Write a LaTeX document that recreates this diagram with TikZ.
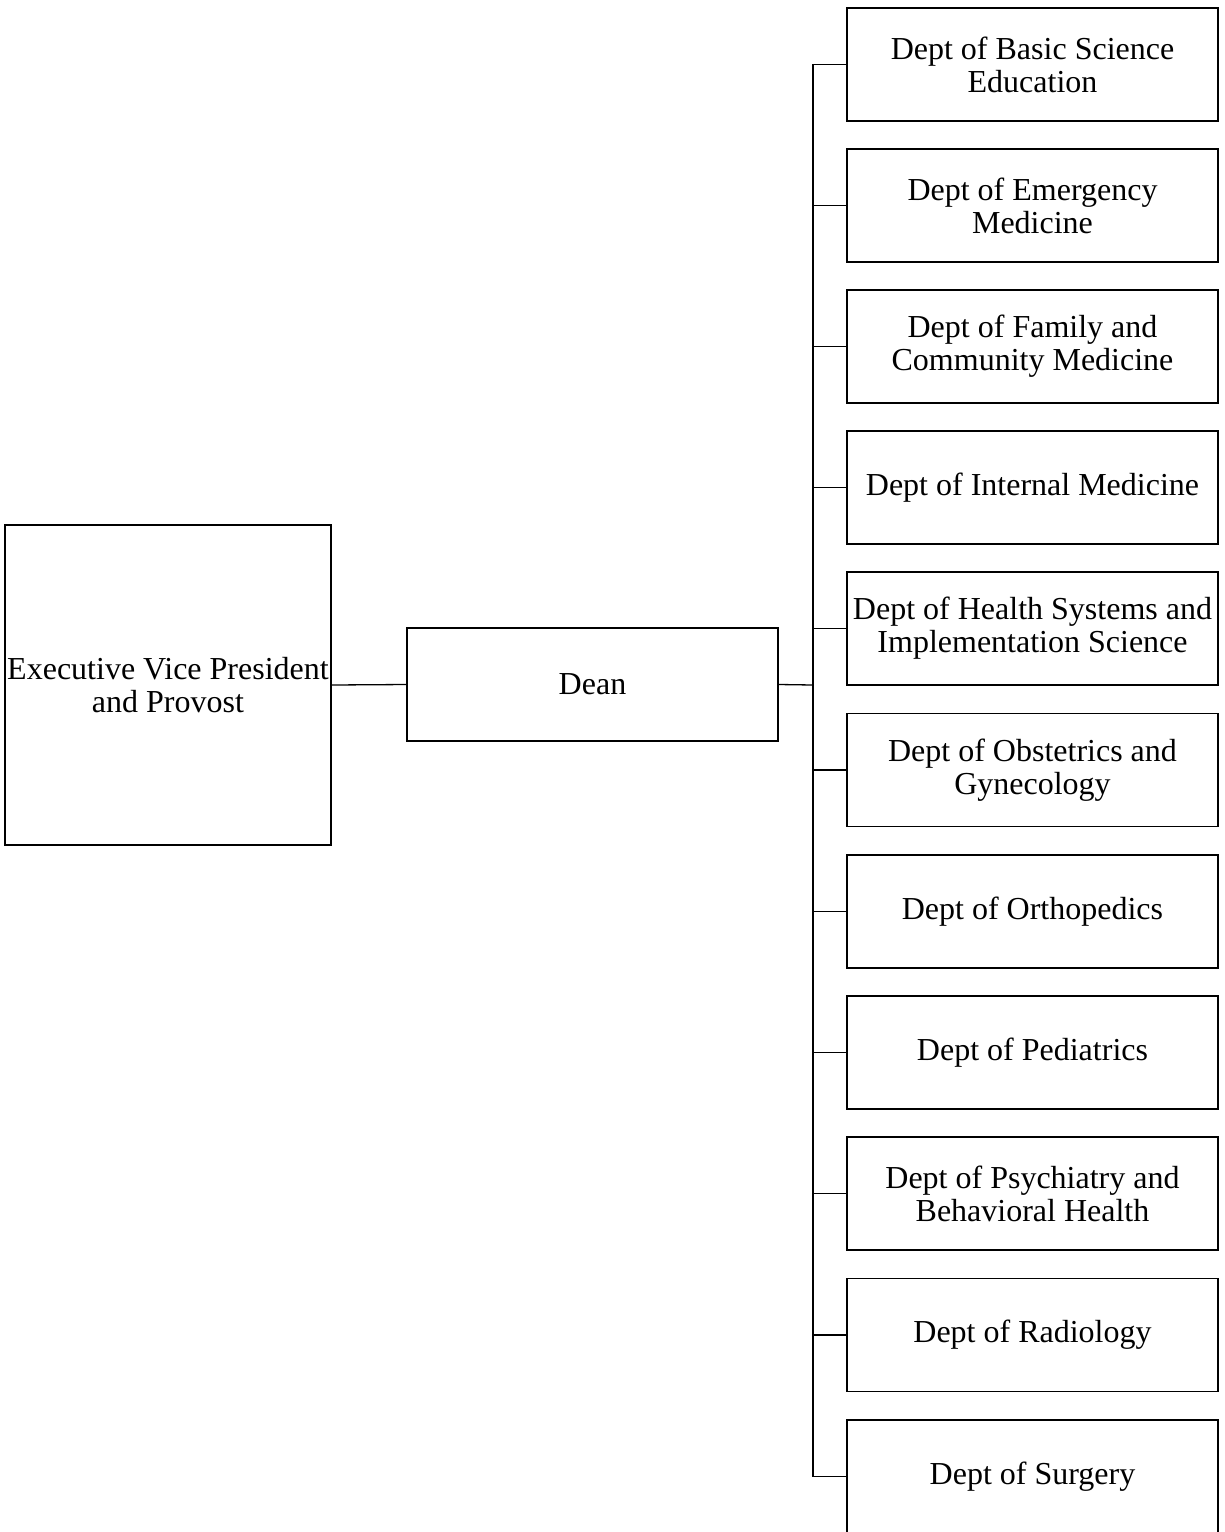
\documentclass[tikz,border=0pt]{standalone}
\usepackage{fontspec}
\setmainfont{Liberation Serif}
\begin{document}
\begin{tikzpicture}[x=1pt,y=-1pt,
  box/.style={draw=black,line width=1.6pt,rectangle,align=center,inner sep=0pt,
    font=\fontsize{32}{33}\selectfont},
  dept/.style={box,minimum width=371pt,minimum height=113pt},
  link/.style={draw=black,line width=1.3pt}]
\useasboundingbox (0,0) rectangle (1225,1532);
\node[box,minimum width=326pt,minimum height=320pt] (evp) at (168,685) {Executive Vice President\\and Provost};
\node[box,minimum width=371pt,minimum height=113pt] (dean) at (592.5,684.5) {Dean};
\coordinate (bus) at (813,685);
\node[dept] (d1) at (1032.5,64.5) {Dept of Basic Science\\Education};
\node[dept] (d2) at (1032.5,205.5) {Dept of Emergency\\Medicine};
\node[dept] (d3) at (1032.5,346.5) {Dept of Family and\\Community Medicine};
\node[dept] (d4) at (1032.5,487.5) {Dept of Internal Medicine};
\node[dept] (d5) at (1032.5,628.5) {Dept of Health Systems and\\Implementation Science};
\node[dept] (d6) at (1032.5,770) {Dept of Obstetrics and\\Gynecology};
\node[dept] (d7) at (1032.5,911.5) {Dept of Orthopedics};
\node[dept] (d8) at (1032.5,1052.5) {Dept of Pediatrics};
\node[dept] (d9) at (1032.5,1193.5) {Dept of Psychiatry and\\Behavioral Health};
\node[dept] (d10) at (1032.5,1335) {Dept of Radiology};
\node[dept] (d11) at (1032.5,1476.5) {Dept of Surgery};
\draw[link] (evp.east) -- (dean.west);
\draw[link] (dean.east) -- (bus);
\foreach \i in {1,...,11} {\draw[link] (d\i.west) -| (bus);}
\end{tikzpicture}
\end{document}
